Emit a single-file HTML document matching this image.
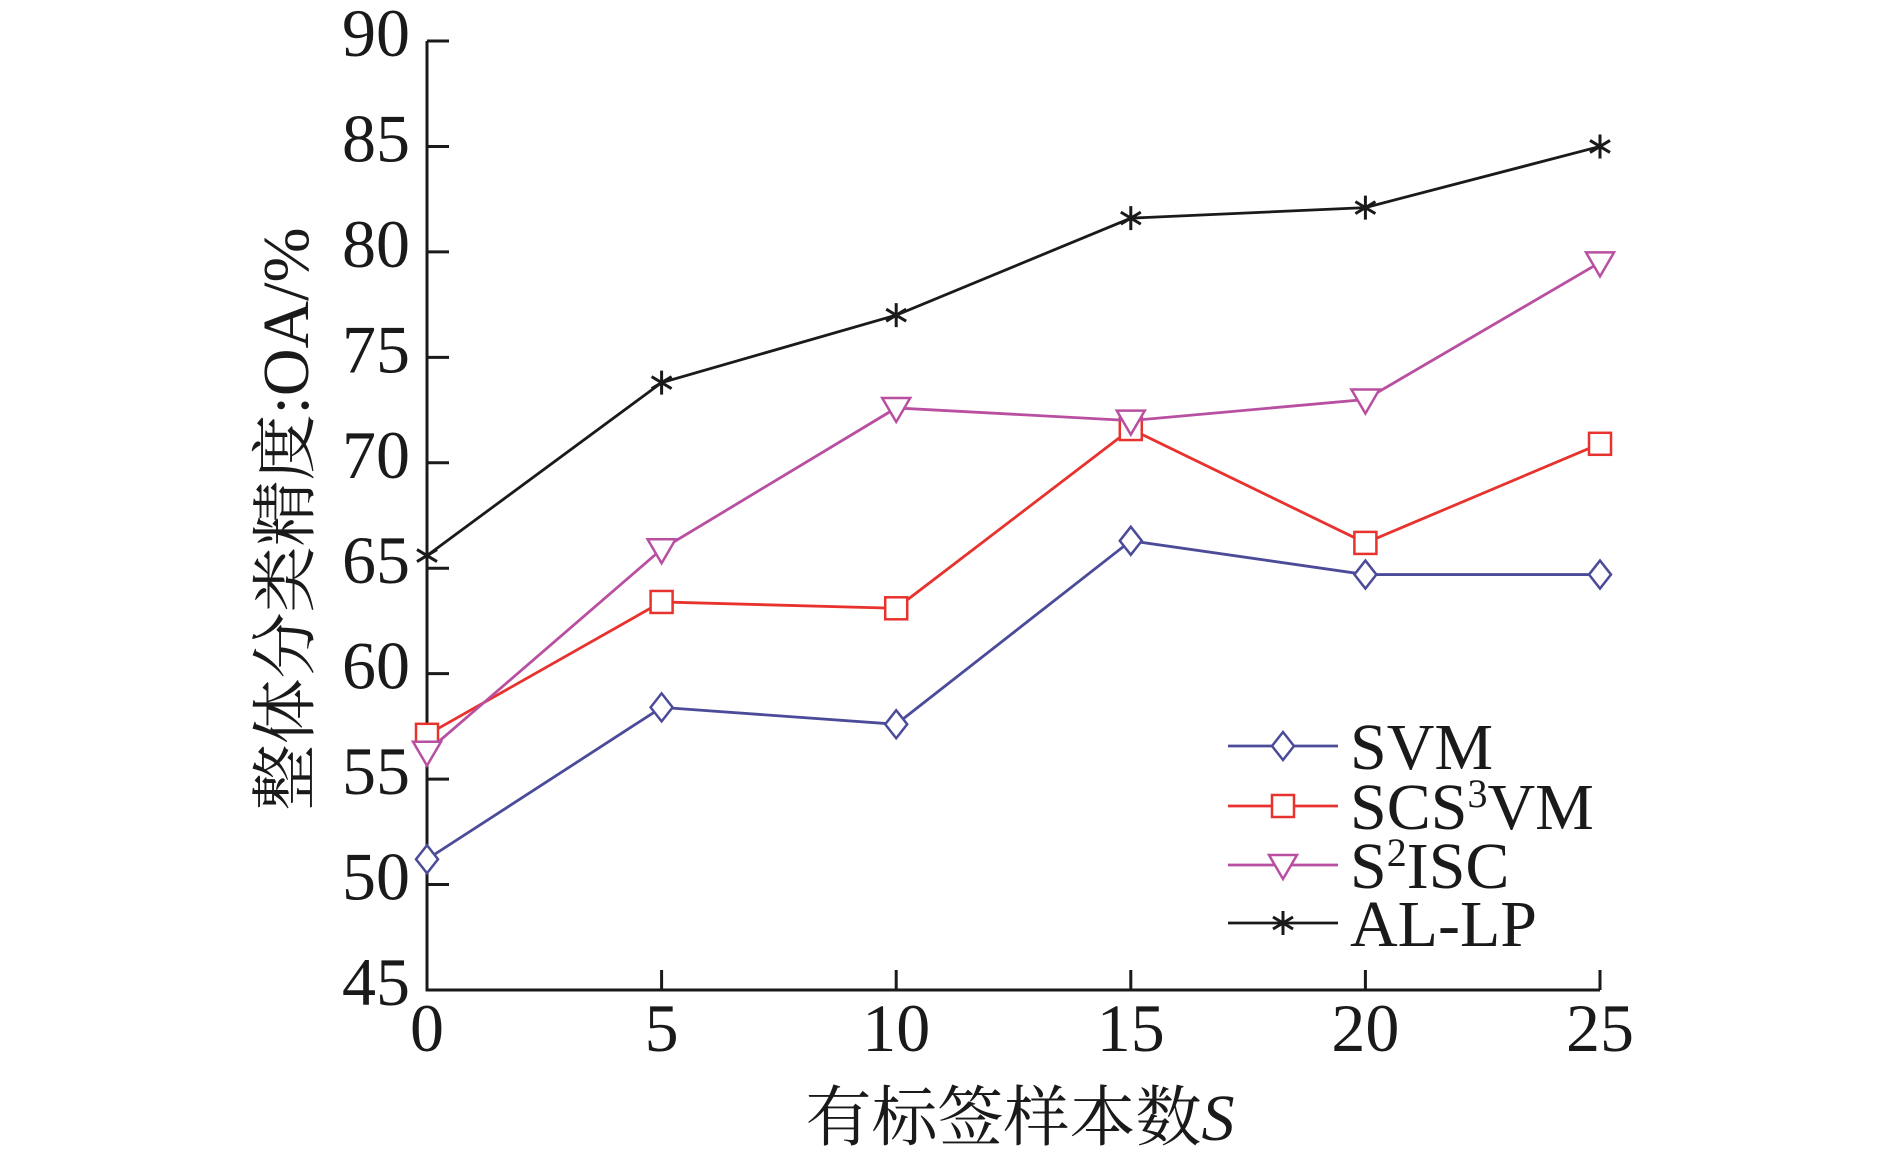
<!DOCTYPE html>
<html><head><meta charset="utf-8"><style>
html,body{margin:0;padding:0;background:#fff;}
svg text{font-family:"Liberation Serif","Noto Serif CJK SC",serif;fill:#1a1a1a;}
</style></head><body>
<svg id="chart" width="1890" height="1155" viewBox="0 0 1890 1155" xmlns="http://www.w3.org/2000/svg">
<g id="axes"></g>
<g id="series"></g>
<g id="legend"></g>
<text transform="translate(308,519) rotate(-90)" text-anchor="middle" font-size="66">整体分类精度:OA/%</text>
<text x="1020" y="1140" text-anchor="middle" font-size="66">有标签样本数<tspan font-style="italic">S</tspan></text>
</svg>
<script>
const xCats=[0,5,10,15,20,25];
const yTicks=[45,50,55,60,65,70,75,80,85,90];
const svmVals=[51.2,58.4,57.6,66.3,64.7,64.7];
const scs3vmVals=[57.1,63.4,63.1,71.6,66.2,70.9];
const s2iscVals=[56.3,65.9,72.6,72.0,73.0,79.5];
const allpVals=[65.6,73.8,77.0,81.6,82.1,85.0];
const NS='http://www.w3.org/2000/svg';
const X0=427,X1=1600,Y0=990,Y1=41;
function sx(v){return X0+(v-0)/(25-0)*(X1-X0);}
function sy(v){return Y0-(v-45)/(90-45)*(Y0-Y1);}
function mk(tag,attrs,parent){const e=document.createElementNS(NS,tag);for(const k in attrs)e.setAttribute(k,attrs[k]);parent.appendChild(e);return e;}
const axes=document.getElementById('axes');
let a=mk('path',{d:`M${X0},${Y1} L${X0},${Y0} L${X1},${Y0}`,fill:'none',stroke:'#1a1a1a','stroke-width':3},axes);


yTicks.forEach(t=>{
  const y=sy(t);
  const l=mk('line',{x1:X0,x2:X0+22,y1:y,y2:y,stroke:'#1a1a1a','stroke-width':3},axes);
  
  
  const tx=mk('text',{x:410,y:y+15,'text-anchor':'end','font-size':68},axes);
  tx.textContent=t;
  
  
});
xCats.forEach(t=>{
  const x=sx(t);
  const l=mk('line',{x1:x,x2:x,y1:Y0,y2:Y0-20,stroke:'#1a1a1a','stroke-width':3},axes);
  
  
  const tx=mk('text',{x:x,y:1051,'text-anchor':'middle','font-size':68},axes);
  tx.textContent=t;
  
  
});
function marker(type,x,y,color,parent){
  let e;
  if(type==='diamond')e=mk('path',{d:`M${x},${y-14} L${x+11},${y} L${x},${y+14} L${x-11},${y} Z`,fill:'#fff',stroke:color,'stroke-width':2.5},parent);
  else if(type==='square')e=mk('rect',{x:x-11,y:y-11,width:22,height:22,fill:'#fff',stroke:color,'stroke-width':2.5},parent);
  else if(type==='tri')e=mk('path',{d:`M${x-14},${y-10} L${x+14},${y-10} L${x},${y+14} Z`,fill:'#fff',stroke:color,'stroke-width':2.5},parent);
  else e=mk('path',{d:`M${x},${y-12} L${x},${y+12} M${x-10},${y-6} L${x+10},${y+6} M${x-10},${y+6} L${x+10},${y-6}`,stroke:color,'stroke-width':3,fill:'none'},parent);
  
  
}
const series=[
 {name:'svm',vals:svmVals,color:'#4b4b9a',m:'diamond',label:'SVM'},
 {name:'scs3vm',vals:scs3vmVals,color:'#e8322d',m:'square',label:'SCS<tspan font-size="40" dy="-22">3</tspan><tspan dy="22">VM</tspan>'},
 {name:'s2isc',vals:s2iscVals,color:'#b94fa0',m:'tri',label:'S<tspan font-size="40" dy="-22">2</tspan><tspan dy="22">ISC</tspan>'},
 {name:'al-lp',vals:allpVals,color:'#1a1a1a',m:'star',label:'AL-LP'}
];
const sg=document.getElementById('series');
series.forEach(s=>{
  const g=mk('g',{},sg);
  
  
  const pts=s.vals.map((v,i)=>sx(xCats[i])+','+sy(v)).join(' ');
  const pl=mk('polyline',{points:pts,fill:'none',stroke:s.color,'stroke-width':2.8},g);
  
  
  s.vals.forEach((v,i)=>marker(s.m,sx(xCats[i]),sy(v),s.color,g));
});
const lg=document.getElementById('legend');
const rows=[746,806,865,923];
series.forEach((s,i)=>{
  const g=mk('g',{},lg);
  
  
  const y=rows[i];
  mk('line',{x1:1228,x2:1338,y1:y,y2:y,stroke:s.color,'stroke-width':2.8},g);
  marker(s.m,1283,y,s.color,g);
  const t=mk('text',{x:1350,y:y+23,'font-size':66},g);
  t.innerHTML=s.label;
});
</script>
</body></html>
